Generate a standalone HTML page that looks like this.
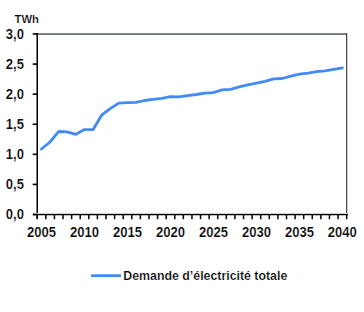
<!DOCTYPE html>
<html><head><meta charset="utf-8"><style>
html,body{margin:0;padding:0;background:#fff;width:364px;height:312px;overflow:hidden}
svg{display:block}
text{font-family:"Liberation Sans",sans-serif;font-weight:bold;fill:#000;stroke:#fff;stroke-width:0.2px}
.lab{font-size:14.5px}
</style></head><body>
<svg width="364" height="312" viewBox="0 0 364 312">
<rect width="364" height="312" fill="#fff"/>
<g shape-rendering="crispEdges">
<rect x="37" y="33" width="310.3" height="1" fill="#878c91"/>
<rect x="37" y="34" width="309" height="1" fill="#73787d"/>
<rect x="346" y="33" width="1" height="181" fill="#4b5050"/>
<rect x="347" y="33" width="1" height="181" fill="#c8cbcb"/>
<rect x="36" y="33" width="1" height="186" fill="#6e7878"/>
<rect x="37" y="33" width="1" height="186" fill="#050808"/>
<rect x="33" y="213" width="314" height="1" fill="#cdd2d4"/>
<rect x="33" y="214" width="315" height="1" fill="#000"/>
<rect x="33" y="215" width="315" height="1" fill="#b4bcbe"/>
</g>
<g stroke="#000" stroke-width="1.5" fill="none">
<line x1="37.25" y1="214.5" x2="37.25" y2="219.2"/><line x1="45.84" y1="214.5" x2="45.84" y2="219.2"/><line x1="54.44" y1="214.5" x2="54.44" y2="219.2"/><line x1="63.03" y1="214.5" x2="63.03" y2="219.2"/><line x1="71.63" y1="214.5" x2="71.63" y2="219.2"/><line x1="80.22" y1="214.5" x2="80.22" y2="219.2"/><line x1="88.82" y1="214.5" x2="88.82" y2="219.2"/><line x1="97.41" y1="214.5" x2="97.41" y2="219.2"/><line x1="106.01" y1="214.5" x2="106.01" y2="219.2"/><line x1="114.60" y1="214.5" x2="114.60" y2="219.2"/><line x1="123.19" y1="214.5" x2="123.19" y2="219.2"/><line x1="131.79" y1="214.5" x2="131.79" y2="219.2"/><line x1="140.38" y1="214.5" x2="140.38" y2="219.2"/><line x1="148.98" y1="214.5" x2="148.98" y2="219.2"/><line x1="157.57" y1="214.5" x2="157.57" y2="219.2"/><line x1="166.17" y1="214.5" x2="166.17" y2="219.2"/><line x1="174.76" y1="214.5" x2="174.76" y2="219.2"/><line x1="183.36" y1="214.5" x2="183.36" y2="219.2"/><line x1="191.95" y1="214.5" x2="191.95" y2="219.2"/><line x1="200.54" y1="214.5" x2="200.54" y2="219.2"/><line x1="209.14" y1="214.5" x2="209.14" y2="219.2"/><line x1="217.73" y1="214.5" x2="217.73" y2="219.2"/><line x1="226.33" y1="214.5" x2="226.33" y2="219.2"/><line x1="234.92" y1="214.5" x2="234.92" y2="219.2"/><line x1="243.52" y1="214.5" x2="243.52" y2="219.2"/><line x1="252.11" y1="214.5" x2="252.11" y2="219.2"/><line x1="260.71" y1="214.5" x2="260.71" y2="219.2"/><line x1="269.30" y1="214.5" x2="269.30" y2="219.2"/><line x1="277.89" y1="214.5" x2="277.89" y2="219.2"/><line x1="286.49" y1="214.5" x2="286.49" y2="219.2"/><line x1="295.08" y1="214.5" x2="295.08" y2="219.2"/><line x1="303.68" y1="214.5" x2="303.68" y2="219.2"/><line x1="312.27" y1="214.5" x2="312.27" y2="219.2"/><line x1="320.87" y1="214.5" x2="320.87" y2="219.2"/><line x1="329.46" y1="214.5" x2="329.46" y2="219.2"/><line x1="338.06" y1="214.5" x2="338.06" y2="219.2"/><line x1="346.65" y1="214.5" x2="346.65" y2="219.2"/>
</g>
<g stroke="#000" stroke-width="1.6" fill="none">
<line x1="32.7" y1="214.50" x2="37.25" y2="214.50"/><line x1="32.7" y1="184.42" x2="37.25" y2="184.42"/><line x1="32.7" y1="154.33" x2="37.25" y2="154.33"/><line x1="32.7" y1="124.25" x2="37.25" y2="124.25"/><line x1="32.7" y1="94.17" x2="37.25" y2="94.17"/><line x1="32.7" y1="64.08" x2="37.25" y2="64.08"/><line x1="32.7" y1="34.00" x2="37.25" y2="34.00"/>
</g>
<polyline points="41.40,149.02 50.00,142.00 58.60,131.52 67.20,131.92 75.80,134.38 84.40,129.58 93.00,129.70 101.60,115.18 110.20,108.70 118.80,103.12 127.40,102.70 136.00,102.28 144.60,100.50 153.20,99.30 161.80,98.40 170.40,96.72 179.00,96.78 187.60,95.52 196.20,94.50 204.80,93.20 213.40,92.70 222.00,89.88 230.60,89.28 239.20,86.82 247.80,84.90 256.40,83.22 265.00,81.30 273.60,78.82 282.20,78.52 290.80,76.18 299.40,74.02 308.00,73.12 316.60,71.68 325.20,70.78 333.80,69.40 342.40,67.90" fill="none" stroke="#428af5" stroke-width="2.8" stroke-linejoin="round" stroke-linecap="round"/>
<text transform="translate(14.6,22.6) scale(0.97,1)" style="font-size:11.6px">TWh</text>
<g class="lab">
<text transform="translate(24,219.10) scale(0.9,1)" text-anchor="end">0,0</text><text transform="translate(24,189.02) scale(0.9,1)" text-anchor="end">0,5</text><text transform="translate(24,158.93) scale(0.9,1)" text-anchor="end">1,0</text><text transform="translate(24,128.85) scale(0.9,1)" text-anchor="end">1,5</text><text transform="translate(24,98.77) scale(0.9,1)" text-anchor="end">2,0</text><text transform="translate(24,68.68) scale(0.9,1)" text-anchor="end">2,5</text><text transform="translate(24,38.60) scale(0.9,1)" text-anchor="end">3,0</text>
<text transform="translate(41.55,237.2) scale(0.9,1)" text-anchor="middle">2005</text><text transform="translate(84.52,237.2) scale(0.9,1)" text-anchor="middle">2010</text><text transform="translate(127.49,237.2) scale(0.9,1)" text-anchor="middle">2015</text><text transform="translate(170.46,237.2) scale(0.9,1)" text-anchor="middle">2020</text><text transform="translate(213.44,237.2) scale(0.9,1)" text-anchor="middle">2025</text><text transform="translate(256.41,237.2) scale(0.9,1)" text-anchor="middle">2030</text><text transform="translate(299.38,237.2) scale(0.9,1)" text-anchor="middle">2035</text><text transform="translate(342.35,237.2) scale(0.9,1)" text-anchor="middle">2040</text>
</g>
<line x1="91" y1="275.67" x2="121" y2="275.67" stroke="#428af5" stroke-width="2.8"/>
<text x="123.3" y="280.4" style="font-size:12.3px" textLength="164" lengthAdjust="spacingAndGlyphs">Demande d’électricité totale</text>
</svg>
</body></html>
